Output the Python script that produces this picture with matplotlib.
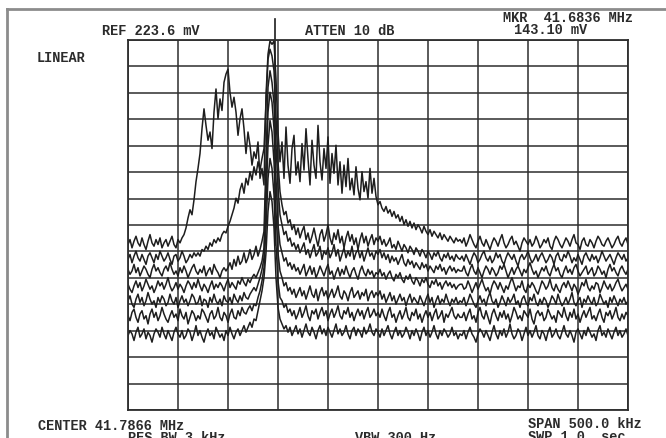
import numpy as np
import matplotlib
matplotlib.use("Agg")
import matplotlib.pyplot as plt
from matplotlib.lines import Line2D

# analyzer settings
center_mhz = 41.7866
span_mhz = 0.5
ref_mv = 223.6
marker_mhz = 41.6836
marker_mv = 143.10

# sweep bins, 2 kHz apart across the span
freq = np.linspace(center_mhz - span_mhz / 2, center_mhz + span_mhz / 2, 251)

# stored sweeps, level in mV, highest noise floor first
sweep_1 = [
    100, 103, 98, 102, 105, 101, 99, 104, 100, 97, 102, 106, 101, 99, 103, 100, 104, 98, 101, 103,
    99, 102, 105, 100, 98, 103, 101, 104,
    106, 110, 116, 121, 118, 127, 138, 146, 155, 170, 182, 172, 163, 168, 158, 180, 194, 176, 188, 181,
    198, 203, 206, 192, 183, 189, 180, 166, 176, 182, 170, 155, 168, 160, 148, 156, 152, 162, 140, 146, 136,
    190, 215, 223, 221, 223, 200, 168, 150,
    162, 140, 171, 148, 137, 158, 166, 142, 150, 138, 161, 145, 170, 152, 136, 163, 148, 140, 172, 150,
    139, 158, 146, 165, 137, 155, 143, 160, 136, 150, 131, 148, 135, 152, 133, 140, 130, 147, 134, 127,
    144, 132, 138, 128, 146, 131, 140, 129,
    124, 126, 122, 120, 123, 119, 121, 117, 120, 116, 118, 114, 117, 112, 115, 111, 114, 110, 113, 109,
    112, 110, 107, 111, 108, 106, 109, 105, 108, 106, 104, 107, 103, 106, 104, 102, 105, 103, 101, 104,
    102, 103,
    101, 104, 99, 102, 106, 103, 100, 98, 102, 105, 101, 99, 103, 100, 97, 101, 104, 102, 99, 103,
    106, 101, 98, 100, 103, 105, 100, 102, 99, 96, 101, 104, 102, 100, 103, 99, 101, 105, 102, 98,
    100, 103, 101, 104, 99, 97, 102, 105, 103, 100, 98, 101, 104, 102, 99, 103, 106, 101, 100, 97,
    102, 104, 100, 99, 103, 101, 98, 102, 105, 103, 100, 99, 102, 104, 101, 98, 100, 103, 105, 101,
    99, 102, 104, 100]
sweep_2 = [
    91, 94, 89, 93, 96, 92, 90, 94, 91, 88, 93, 95, 92, 89, 94, 91, 96, 93, 90, 92,
    95, 91, 88, 93, 94, 90, 92, 96, 93, 89, 91, 94, 92, 95, 93,
    95, 93, 97, 96, 99, 97, 101, 99, 103, 101, 104, 102, 106, 108, 107, 111, 114, 118, 122, 128,
    125, 133, 137, 131, 140, 136, 144, 139, 147, 142, 150, 145, 152, 158,
    185, 212, 218, 214, 205, 178, 150, 132,
    124, 118, 120, 113, 115, 109, 112, 106, 110, 104, 108, 111, 103, 107, 101, 105, 110, 104, 99, 106,
    109, 102, 106, 112, 104, 100, 107, 103, 109, 101, 105, 98, 104, 108, 102, 106, 100, 104, 97, 103,
    107, 101, 105, 99, 103, 106, 100, 104,
    102, 105, 100, 103, 99, 101, 104, 98, 100, 97, 102, 99, 96, 100, 98, 95, 99, 97, 94, 98,
    96, 93, 97, 95, 92, 96, 94, 91, 95, 93, 96, 92, 90, 94, 92, 95, 91, 93, 90, 94,
    92, 91,
    93, 90, 94, 91, 88, 92, 95, 93, 89, 91, 94, 96, 92, 90, 93, 89, 91, 95, 92, 94,
    90, 88, 92, 95, 93, 91, 94, 90, 87, 92, 94, 91, 93, 96, 92, 89, 91, 94, 90, 93,
    95, 92, 89, 91, 94, 92, 88, 93, 95, 91, 90, 94, 92, 96, 93, 89, 92, 90, 94, 91,
    88, 93, 95, 92, 90, 94, 91, 93, 89, 92, 96, 93, 90, 92, 94, 91, 88, 92, 95, 93,
    91, 94, 90, 92]
sweep_3 = [
    85, 82, 84, 88, 83, 86, 81, 84, 87, 85, 82, 80, 85, 88, 84, 86, 83, 81, 85, 87,
    84, 89, 85, 82, 84, 81, 86, 83, 87, 84, 80, 83, 86, 88, 84, 82, 85, 83, 87, 81,
    84, 86, 82, 88, 85, 83, 80, 84, 86, 84,
    86, 89, 85, 91, 87, 93, 88, 90, 95, 89, 92, 97, 91, 94, 99, 93, 97, 102, 108,
    150, 195, 205, 198, 185, 160, 135, 118,
    112, 106, 108, 102, 104, 99, 101, 97, 100, 95, 98, 101, 94, 97, 92, 96, 100, 93, 95, 99,
    91, 96, 94, 98, 92, 95, 100, 93, 97, 90, 94, 98, 92, 96, 93, 99, 91, 95, 97, 92,
    96, 90, 94, 98, 93, 95, 91, 96,
    94, 97, 92, 95, 91, 94, 89, 93, 90, 92, 88, 91, 94, 89, 87, 91, 88, 90, 86, 89,
    87, 85, 89, 86, 88, 84, 87, 85, 83, 87, 85, 88, 84, 86, 82, 85, 87, 84, 86, 83,
    85, 84,
    84, 87, 83, 81, 85, 88, 84, 82, 86, 83, 80, 84, 87, 85, 82, 86, 84, 81, 83, 87,
    85, 88, 84, 80, 83, 86, 82, 85, 87, 84, 81, 85, 83, 86, 89, 85, 82, 84, 80, 83,
    86, 84, 87, 83, 81, 85, 88, 84, 86, 82, 80, 84, 87, 83, 85, 82, 86, 88, 84, 81,
    83, 85, 87, 82, 84, 86, 81, 83, 87, 85, 82, 84, 80, 85, 88, 84, 86, 83, 81, 85,
    87, 84, 82, 85]
sweep_4 = [
    76, 73, 71, 75, 78, 74, 77, 72, 75, 79, 76, 73, 75, 71, 74, 78, 75, 77, 73, 76,
    80, 75, 72, 74, 77, 73, 76, 74, 71, 75, 78, 76, 73, 77, 74, 79, 75, 72, 76, 74,
    71, 75, 78, 73, 76, 74, 77, 75, 72, 76, 79, 74, 77, 75, 73, 78, 76, 80, 77, 75,
    79, 77, 80, 82,
    80, 83, 86, 90, 98,
    140, 180, 192, 186, 170, 140, 112, 100,
    95, 90, 92, 87, 89, 85, 88, 84, 86, 82, 85, 88, 81, 84, 87, 82, 86, 80, 83, 87,
    84, 81, 85, 88, 82, 84, 79, 83, 86, 81, 85, 82, 87, 83, 80, 84, 86, 82, 79, 84,
    87, 83, 81, 85, 82, 84, 80, 83,
    82, 85, 81, 83, 79, 82, 84, 80, 78, 82, 80, 83, 79, 77, 81, 79, 82, 78, 76, 80,
    78, 75, 79, 77, 80, 76, 74, 78, 76, 79, 75, 77, 73, 76, 78, 75, 77, 74, 76, 73,
    75, 76,
    76, 73, 74, 78, 75, 71, 74, 77, 73, 76, 79, 75, 72, 74, 70, 75, 78, 76, 73, 77,
    74, 71, 75, 73, 77, 80, 76, 72, 75, 74, 78, 73, 71, 76, 74, 77, 75, 72, 70, 74,
    78, 76, 73, 75, 79, 74, 72, 76, 73, 71, 75, 77, 74, 78, 75, 72, 76, 74, 70, 73,
    77, 75, 79, 74, 72, 75, 73, 77, 76, 71, 74, 78, 75, 73, 76, 72, 74, 77, 79, 75,
    72, 74, 76, 73]
sweep_5 = [
    66, 69, 64, 62, 67, 70, 65, 68, 63, 66, 71, 67, 64, 66, 62, 68, 65, 69, 67, 63,
    65, 70, 66, 64, 68, 62, 66, 69, 65, 67, 63, 66, 70, 68, 64, 65, 69, 63, 67, 66,
    62, 68, 65, 70, 66, 64, 67, 63, 69, 66, 65, 68, 64, 70, 67, 65, 69, 66, 71, 68,
    67, 70, 72, 74,
    72, 76, 80, 85, 92,
    125, 160, 175, 168, 150, 120, 95, 84,
    80, 75, 77, 72, 74, 70, 73, 68, 71, 74, 69, 72, 67, 71, 75, 70, 68, 73, 66, 71,
    74, 69, 72, 67, 70, 73, 68, 71, 75, 69, 67, 72, 70, 66, 71, 74, 68, 70, 72, 67,
    71, 69, 73, 66, 70, 72, 68, 71,
    69, 72, 67, 70, 65, 68, 71, 66, 69, 64, 67, 70, 66, 68, 63, 67, 70, 65, 68, 66,
    64, 69, 66, 63, 67, 70, 65, 68, 62, 66, 69, 64, 67, 65, 70, 66, 63, 67, 65, 68,
    64, 66,
    65, 68, 63, 66, 70, 67, 64, 62, 66, 69, 65, 67, 63, 68, 71, 66, 64, 67, 62, 65,
    69, 66, 63, 68, 65, 67, 70, 64, 66, 62, 67, 69, 65, 63, 68, 66, 70, 65, 63, 67,
    64, 68, 66, 62, 65, 69, 67, 64, 70, 66, 63, 65, 68, 64, 67, 71, 65, 63, 66, 68,
    62, 67, 65, 69, 66, 64, 68, 63, 65, 70, 67, 64, 66, 62, 68, 65, 69, 66, 63, 67,
    65, 68, 64, 66]
sweep_6 = [
    57, 54, 59, 61, 56, 53, 58, 60, 55, 57, 52, 58, 61, 56, 59, 54, 57, 62, 58, 55,
    53, 57, 60, 56, 58, 54, 61, 57, 55, 59, 52, 56, 60, 58, 54, 57, 55, 61, 59, 56,
    53, 58, 60, 55, 57, 62, 56, 54, 59, 57, 53, 58, 61, 56, 55, 60, 57, 62, 59, 58,
    61, 63, 60, 64,
    63, 68, 72, 78, 86,
    110, 140, 152, 146, 130, 100, 78, 68,
    66, 62, 64, 59, 61, 57, 60, 55, 58, 62, 56, 59, 63, 57, 54, 60, 58, 61, 55, 59,
    62, 57, 60, 54, 58, 61, 56, 59, 63, 57, 55, 60, 58, 62, 56, 59, 54, 58, 61, 57,
    60, 55, 59, 62, 56, 58, 61, 57,
    59, 56, 61, 57, 54, 59, 62, 56, 58, 53, 57, 60, 55, 58, 62, 56, 54, 59, 57, 61,
    55, 58, 53, 57, 60, 56, 59, 54, 58, 61, 55, 57, 60, 53, 58, 56, 59, 62, 57, 55,
    58, 56,
    56, 59, 54, 58, 61, 55, 57, 53, 59, 62, 57, 55, 60, 56, 52, 58, 61, 57, 54, 59,
    56, 60, 55, 58, 53, 57, 62, 59, 55, 57, 54, 60, 58, 56, 61, 55, 52, 58, 60, 57,
    59, 54, 56, 61, 58, 55, 57, 53, 60, 58, 56, 62, 57, 54, 59, 56, 61, 55, 58, 53,
    57, 60, 56, 59, 62, 55, 57, 54, 58, 61, 56, 53, 59, 57, 60, 55, 58, 62, 56, 54,
    58, 55, 59, 57]
sweep_7 = [
    45, 48, 46, 42, 47, 50, 44, 46, 49, 43, 47, 45, 41, 46, 49, 47, 44, 50, 46, 43,
    48, 45, 42, 47, 50, 46, 44, 48, 43, 45, 49, 47, 42, 46, 51, 45, 48, 44, 41, 46,
    49, 45, 47, 43, 50, 47, 44, 46, 42, 48, 45, 50, 46, 43, 47, 49, 45, 48, 51, 47,
    50, 53, 50, 55,
    54, 60, 66, 72, 80,
    95, 120, 132, 126, 110, 80, 62, 55,
    52, 49, 51, 47, 50, 45, 48, 51, 46, 49, 44, 48, 52, 47, 45, 50, 47, 43, 48, 51,
    46, 49, 45, 50, 47, 44, 48, 52, 46, 49, 45, 47, 51, 46, 43, 48, 50, 45, 49, 47,
    44, 50, 46, 48, 52, 47, 45, 49,
    47, 44, 49, 45, 48, 51, 46, 43, 47, 50, 45, 48, 44, 46, 50, 47, 43, 48, 45, 49,
    46, 42, 47, 50, 45, 48, 44, 47, 51, 46, 43, 48, 45, 49, 47, 44, 46, 50, 45, 47,
    43, 46,
    45, 48, 43, 47, 50, 46, 44, 41, 46, 49, 47, 44, 48, 45, 42, 47, 51, 46, 43, 48,
    45, 49, 44, 47, 52, 46, 43, 45, 49, 47, 42, 46, 50, 45, 48, 44, 47, 51, 45, 43,
    48, 46, 42, 47, 50, 44, 46, 49, 45, 43, 47, 51, 46, 44, 48, 45, 41, 47, 49, 46,
    43, 48, 45, 50, 47, 44, 46, 42, 48, 51, 45, 47, 44, 49, 46, 43, 47, 50, 45, 48,
    44, 46, 49, 45]
sweeps = [sweep_1, sweep_2, sweep_3, sweep_4, sweep_5, sweep_6, sweep_7]

W, H = 666, 438
fig = plt.figure(figsize=(W / 100, H / 100), dpi=100)
fig.patch.set_facecolor("white")

ax = fig.add_axes([128 / W, 28 / H, 500 / W, 370 / H])
ax.set_xlim(freq[0], freq[-1])
ax.set_ylim(0, ref_mv)
ax.set_xticks(np.linspace(freq[0], freq[-1], 11))
ax.set_yticks(np.linspace(0, ref_mv, 15))
ax.tick_params(length=0, labelbottom=False, labelleft=False)
ax.grid(True, color="#2e2e2e", lw=1.1)
for s in ax.spines.values():
    s.set_color("#2e2e2e")
    s.set_linewidth(1.3)

for trace in sweeps:
    ax.plot(freq, trace, color="#1e1e1e", lw=1.1)

# marker line runs up through the top of the screen
ax.plot([marker_mhz, marker_mhz], [100, 236], color="#1c1c1c", lw=1.2, clip_on=False)

# outer frame
gray = "#8c8c8c"
fig.add_artist(Line2D([7 / W, 1], [1 - 9 / H, 1 - 9 / H], color=gray, lw=2, transform=fig.transFigure))
fig.add_artist(Line2D([7 / W, 7 / W], [0, 1 - 9 / H], color=gray, lw=2, transform=fig.transFigure))

font = dict(family="Liberation Mono", weight="bold", size=9.8, color="#2b2b2b", va="baseline")


def label(x, y, s):
    fig.text(x / W, 1 - y / H, s, **font)


label(102, 35, f"REF {ref_mv} mV")
label(305, 35, "ATTEN 10 dB")
label(503, 22, f"MKR  {marker_mhz:.4f} MHz")
label(514, 33.5, f"{marker_mv:.2f} mV")
label(37, 62, "LINEAR")
label(38, 429.5, f"CENTER {center_mhz:.4f} MHz")
label(128, 442, "RES BW 3 kHz")
label(355, 442, "VBW 300 Hz")
label(528, 427.5, f"SPAN {span_mhz * 1000:.1f} kHz")
label(528, 441, "SWP 1.0  sec")

fig.savefig("out.png", dpi=100)
